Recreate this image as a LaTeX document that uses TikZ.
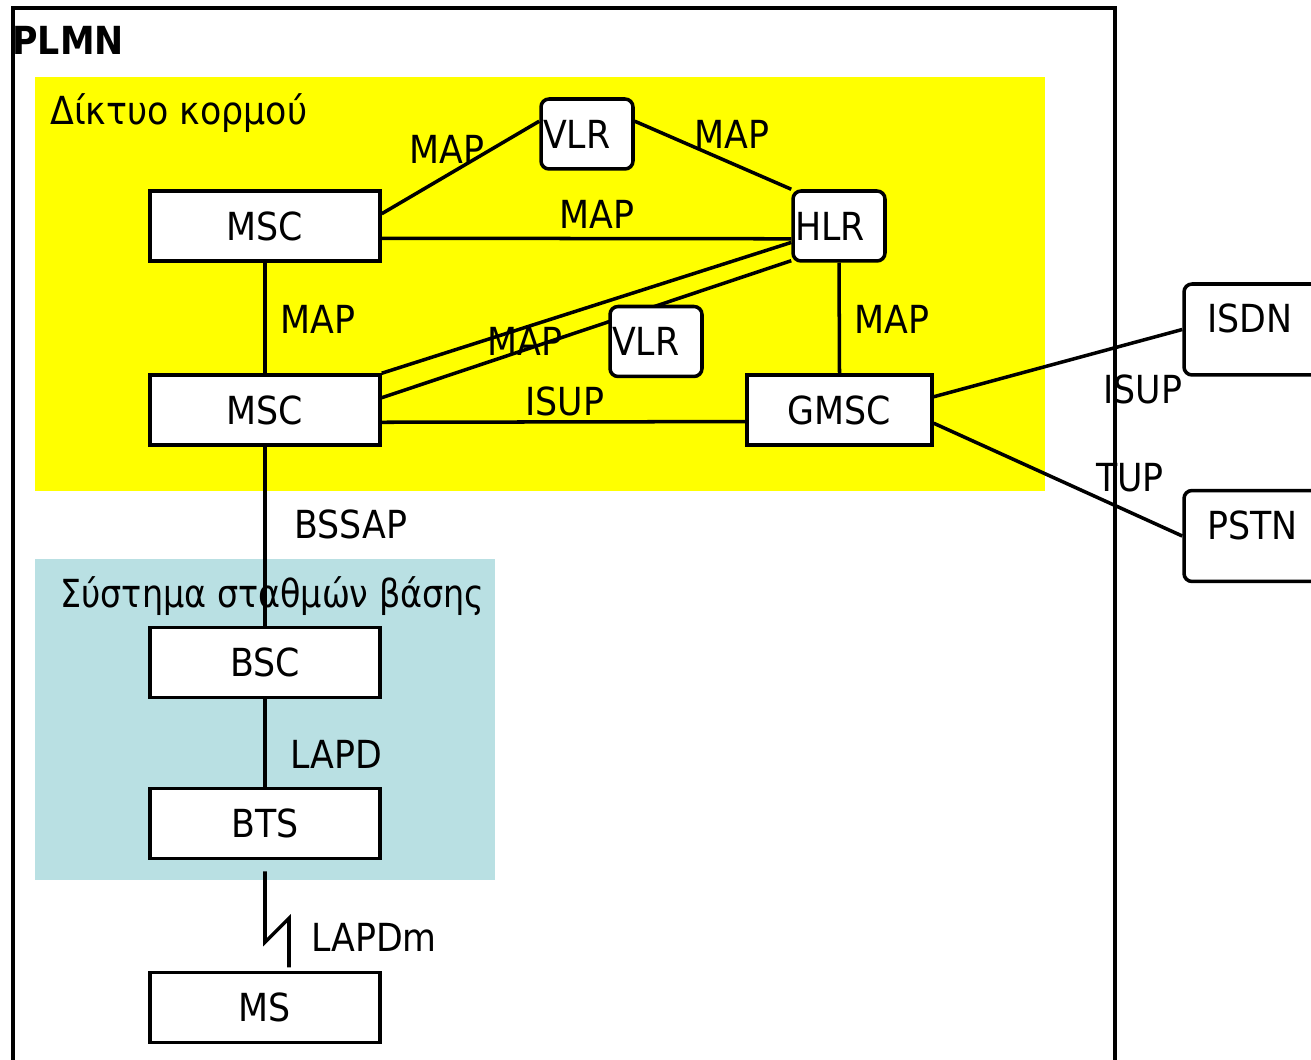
\documentclass[tikz,border=0pt]{standalone}
\usepackage{fontspec}
\setmainfont{DejaVu Sans}[FakeStretch=0.9]
\usetikzlibrary{calc}
\definecolor{coreyellow}{RGB}{255,255,0}
\definecolor{bssblue}{RGB}{185,224,227}

\begin{document}
\begin{tikzpicture}[
  x=0.02cm, y=-0.02cm,
  font=\fontsize{22}{26}\selectfont,
  box/.style={draw, line width=2pt, fill=white, minimum width=4.6cm,
              minimum height=1.4cm, inner sep=1pt},
  rbox/.style={box, rounded corners=0.16cm, minimum width=1.84cm,
               text width=1.76cm, align=left},
  ext/.style={rbox, minimum height=1.82cm, text width=2.2cm,
              inner xsep=0.46cm, text depth=0.45cm},
  link/.style={line width=2pt},
  lbl/.style={inner sep=0pt},
]
\clip (0,0) rectangle (1311,1060);

% ---- regions ---------------------------------------------------------------
\draw[line width=2.5pt] (13,1080) |- (1115,8) -- (1115,1080);
\node[lbl, anchor=base west, font=\fontsize{22}{26}\selectfont\bfseries] (plmn) at (12,55) {PLMN};
\fill[coreyellow] (35,77) rectangle (1045,491);
\node[lbl, anchor=base west] (core) at (50,125) {Δίκτυο κορμού};
\fill[bssblue] (35,559) rectangle (495,880);
\node[lbl, anchor=base west, xscale=0.96] (bss) at (60,607) {Σύστημα σταθμών βάσης};

% ---- network elements --------------------------------------------------------
\foreach \n/\t/\y in {msca/MSC/226, mscb/MSC/410, bsc/BSC/662.5, bts/BTS/823.5, ms/MS/1007.5}
  \node[box] (\n) at (265,\y) {\t};
\node[rbox] (vlra) at (587,134) {VLR};
\node[rbox] (hlr) at (839,226) {HLR};
\node[box, minimum width=3.7cm] (gmsc) at (839.5,410) {GMSC};
\node[ext] (isdn) at (1262,329.5) {ISDN};
\node[ext] (pstn) at (1262,536) {PSTN};

% ---- links -------------------------------------------------------------------
\draw[link] (msca.6) -- (vlra.165);
\draw[link] (vlra.15) -- (hlr.north west);
\draw[link] (msca.-6) -- (hlr.195);
\draw[link] (msca.south) -- (mscb.north);
\draw[link] (hlr.south) -- (gmsc.north);
\draw[link] (hlr.199) -- (mscb.north east);
\draw[link] (hlr.216) -- (mscb.6);
\draw[link] (mscb.-6) -- (gmsc.187);
\draw[link] (gmsc.8) -- (isdn.west);
\draw[link] (gmsc.-8) -- (pstn.west);
\draw[link] (mscb.south) -- (bsc.north);
\draw[link] (bsc.south) -- (bts.north);
% radio interface
\draw[link] (bts.south) ++(0,11) -- ++(0,71) -- ++(24,-24) -- ++(0,49);

% VLR of the lower MSC sits on top of the MSC--HLR link
\node[rbox] (vlrb) at (656,341.5) {VLR};

% ---- protocol labels -----------------------------------------------------------
\foreach \n/\t/\x/\y in {mapa/MAP/447/149, mapb/MAP/732/134, mapc/MAP/597/214,
                         mapd/MAP/318/319, mape/MAP/525/341, mapf/MAP/892/319,
                         isupa/ISUP/565/401, isupb/ISUP/1143/389, tup/TUP/1130/478,
                         bssap/BSSAP/351/524, lapd/LAPD/336/754, lapdm/LAPDm/374/937}
  \node[lbl] (\n) at (\x,\y) {\t};
\end{tikzpicture}
\end{document}
